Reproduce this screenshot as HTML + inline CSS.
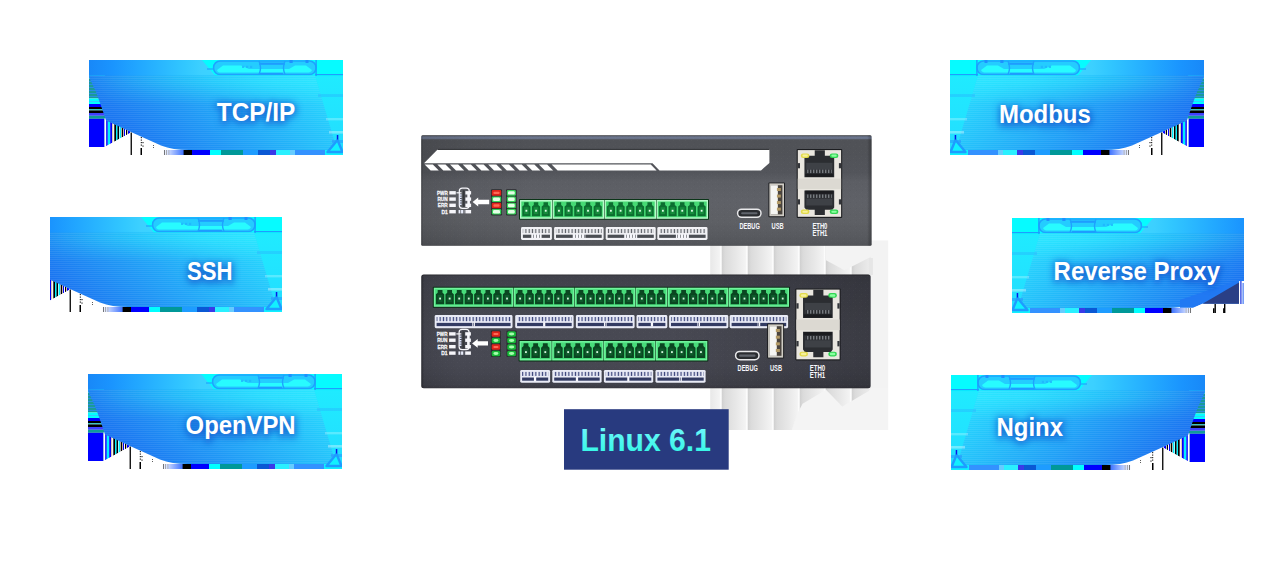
<!DOCTYPE html>
<html><head><meta charset="utf-8"><title>Linux 6.1</title>
<style>
html,body{margin:0;padding:0;background:#fff;}
body{width:1286px;height:582px;position:relative;overflow:hidden;font-family:"Liberation Sans",sans-serif;}
svg{display:block}
</style></head><body>
<svg width="0" height="0" style="position:absolute"><defs>

<linearGradient id="gTop" x1="0" y1="0" x2="1" y2="0">
  <stop offset="0" stop-color="#1888f8"/>
  <stop offset="0.09" stop-color="#1a94fe"/>
  <stop offset="0.20" stop-color="#22a8ff"/>
  <stop offset="0.38" stop-color="#32c8ff"/>
  <stop offset="0.44" stop-color="#3cd0ff"/>
  <stop offset="0.50" stop-color="#3cd4ff"/>
  <stop offset="1" stop-color="#3cd4ff"/>
</linearGradient>
<linearGradient id="gBody" gradientUnits="userSpaceOnUse" x1="20" y1="70" x2="158.6" y2="-68.6">
  <stop offset="0" stop-color="#1a70f0"/>
  <stop offset="1" stop-color="#28e0ff"/>
</linearGradient>
<linearGradient id="gOvH" gradientUnits="userSpaceOnUse" x1="0" y1="0" x2="240" y2="0">
  <stop offset="0" stop-color="#2ae4ff" stop-opacity="0.04"/>
  <stop offset="1" stop-color="#2ae4ff" stop-opacity="1"/>
</linearGradient>
<linearGradient id="gOvV" gradientUnits="userSpaceOnUse" x1="0" y1="22" x2="0" y2="45">
  <stop offset="0" stop-color="#fff"/>
  <stop offset="1" stop-color="#000"/>
</linearGradient>
<mask id="mOvV" maskUnits="userSpaceOnUse" x="0" y="0" width="254" height="95"><rect x="0" y="0" width="254" height="95" fill="url(#gOvV)"/></mask>
<clipPath id="bodyclip"><path d="M0,15.5 L226,15.5 L247.6,88.5 Q248,90 246,90 L100,90 Q84,90 72,85.5 L42,72 L17,60.5 Q13,48 7,32 L0,17 Z"/></clipPath>
<linearGradient id="gRight" x1="0" y1="0" x2="0" y2="1">
  <stop offset="0" stop-color="#1eeeff"/>
  <stop offset="1" stop-color="#24dcff"/>
</linearGradient>
<pattern id="scan" width="4" height="2" patternUnits="userSpaceOnUse">
  <rect width="4" height="1" fill="#ffffff" opacity="0.07"/>
</pattern>
<filter id="tsh" x="-30%" y="-100%" width="160%" height="300%">
  <feGaussianBlur stdDeviation="3.6"/>
</filter>
<g id="badge">
  <!-- base -->
  <rect x="0" y="0" width="254" height="95" fill="#ffffff"/>
  <rect x="100" y="0" width="154" height="95" fill="url(#gRight)"/>
  <!-- top strip -->
  <rect x="0" y="0" width="254" height="16.2" fill="url(#gTop)"/>
  <polygon points="113,0 254,0 254,16.2 126.6,16.2" fill="#06fbff"/>
  <rect x="118" y="8.4" width="7" height="1.2" fill="#1ea4ff"/>
  <rect x="226" y="14" width="28" height="1.2" fill="#1e9cff"/>
  <!-- cloud thing -->
  <rect x="124.6" y="1" width="102.4" height="13.6" rx="6.5" ry="6.5" fill="#24ccff" stroke="#1ea2ff" stroke-width="1.5"/>
  <path d="M128,10 L134,5.6 L152,5.6 L160,9 L200,9 L206,5.6 L217,5.6 L223,10 Q222,12.6 218,12.6 L132,12.6 Q128.5,12.6 128,10 Z" fill="#28fbff"/>
  <rect x="170" y="2.6" width="26" height="2.2" fill="#1e9cff"/>
  <rect x="170" y="12.8" width="24" height="1.8" fill="#1e9cff"/>
  <path d="M170,1 q3,6.5 0,13.6" fill="none" stroke="#1ea2ff" stroke-width="1.4"/>
  <path d="M196,1 q-3,6.5 0,13.6" fill="none" stroke="#1ea2ff" stroke-width="1.4"/>
  <rect x="153" y="5.8" width="2.2" height="2.2" fill="#1fb4ff" opacity=".8"/>
  <rect x="157" y="5.8" width="2.2" height="2.2" fill="#1fb4ff" opacity=".8"/>
  <rect x="161" y="5.8" width="2.2" height="2.2" fill="#1fb4ff" opacity=".8"/>
  <rect x="200.5" y="0" width="3.2" height="3" fill="#1e90ff"/>
  <rect x="216.5" y="0" width="3" height="3" fill="#1e90ff"/>
  <rect x="226.4" y="0" width="1.4" height="16" fill="#1e9cff"/>
  <!-- left stripes -->
  <g>
    <rect x="0" y="15.5" width="16" height="3" fill="#17e8ff"/>
    <rect x="0" y="18.5" width="16" height="20" fill="#1a9a9a"/>
    <rect x="0" y="21" width="16" height="1" fill="#2a8fe0"/>
    <rect x="0" y="24" width="16" height="1" fill="#2a8fe0"/>
    <rect x="0" y="27" width="16" height="1" fill="#2a8fe0"/>
    <rect x="0" y="30" width="16" height="1" fill="#2a8fe0"/>
    <rect x="0" y="33" width="16" height="1" fill="#2a8fe0"/>
    <rect x="0" y="36" width="16" height="1" fill="#2a8fe0"/>
    <rect x="0" y="38.5" width="16" height="5.5" fill="#00ffff"/>
    <rect x="0" y="41" width="16" height="0.8" fill="#40c0ff"/>
    <rect x="0" y="44" width="16" height="3" fill="#0000ff"/>
    <rect x="0" y="47" width="16" height="2.4" fill="#000000"/>
    <rect x="0" y="49.4" width="16" height="1" fill="#00e0e0"/>
    <rect x="0" y="50.4" width="16" height="2.6" fill="#000000"/>
    <rect x="0" y="53" width="16" height="2.8" fill="#4040ff"/>
    <rect x="0" y="55.8" width="16" height="3" fill="#109a9a"/>
    <rect x="0" y="58.8" width="15.5" height="28.2" fill="#0000ff"/>
  </g>
  <!-- vertical stripes triangle -->
  <g>
    <polygon points="15.5,58 42,72.5 15.5,87" fill="#ffffff"/>
    <clipPath id="tric"><polygon points="15.5,56 42.5,72.3 15.5,87"/></clipPath>
    <g clip-path="url(#tric)">
      <rect x="15.5" y="55" width="0.50" height="33" fill="#109a9a"/>
      <rect x="17.2" y="55" width="1.60" height="33" fill="#0000ff"/>
      <rect x="18.8" y="55" width="2.40" height="33" fill="#00f0ff"/>
      <rect x="21.2" y="55" width="1.80" height="33" fill="#0000ff"/>
      <rect x="23" y="55" width="1.20" height="33" fill="#d8c8b0"/>
      <rect x="25.3" y="55" width="1.70" height="33" fill="#000"/>
      <rect x="27" y="55" width="1.50" height="33" fill="#00f0ff"/>
      <rect x="28.5" y="55" width="1.50" height="33" fill="#000"/>
      <rect x="30.6" y="55" width="1.40" height="33" fill="#00f0ff"/>
      <rect x="32.7" y="55" width="1.30" height="33" fill="#000"/>
      <rect x="34" y="55" width="1.00" height="33" fill="#c8b8a0"/>
      <rect x="35" y="55" width="1.00" height="33" fill="#0000ff"/>
      <rect x="37" y="55" width="1.20" height="33" fill="#000"/>
      <rect x="38.2" y="55" width="0.60" height="33" fill="#c8b8a0"/>
      <rect x="39" y="55" width="2.00" height="33" fill="#0000ff"/>
    </g>
    <polygon points="15.5,87.2 15.5,95 42,95 42,72.6" fill="#fff"/>
    <rect x="41.6" y="72.5" width="1.3" height="22.5" fill="#000"/>
    <rect x="51.5" y="88" width="1.5" height="7" fill="#000"/>
    <rect x="51.8" y="77" width="1" height="1.2" fill="#000"/>
    <rect x="51.8" y="79.5" width="1" height="1.2" fill="#000"/>
    <rect x="51.8" y="82" width="1" height="1.2" fill="#000"/>
    <rect x="51.8" y="84.5" width="1" height="1.2" fill="#000"/>
    <rect x="53.5" y="82" width="1" height="1.2" fill="#000"/>
    <rect x="53.5" y="85.5" width="1" height="1.2" fill="#000"/>
    <rect x="64" y="85" width="0.8" height="1" fill="#333"/>
    <rect x="64" y="87" width="0.8" height="1" fill="#333"/>
  </g>
  <!-- body -->
  <path id="bodyp" d="M0,15.5 L226,15.5 L247.6,88.5 Q248,90 246,90 L100,90 Q84,90 72,85.5 L42,72 L17,60.5 Q13,48 7,32 L0,17 Z" fill="url(#gBody)"/>
  <g clip-path="url(#bodyclip)"><rect x="0" y="0" width="254" height="95" fill="url(#gOvH)" mask="url(#mOvV)"/></g>
  <path d="M0,15.5 L226,15.5 L247.6,88.5 Q248,90 246,90 L100,90 Q84,90 72,85.5 L42,72 L17,60.5 Q13,48 7,32 L0,17 Z" fill="url(#scan)"/>
  <!-- right bands -->
  <rect x="229" y="34" width="25" height="3" fill="#2aa8ff" opacity=".35"/>
  <rect x="237" y="58" width="17" height="2.4" fill="#ffffff" opacity=".25"/>
  <rect x="240" y="71" width="14" height="2.6" fill="#ffffff" opacity=".35"/>
  <rect x="243" y="80" width="11" height="3" fill="#2a80ff" opacity=".45"/>
  <!-- bottom strip -->
  <g>
    <rect x="74" y="90" width="180" height="5" fill="#2a96ff"/>
    <linearGradient id="gbs" x1="0" y1="0" x2="1" y2="0"><stop offset="0" stop-color="#ffffff"/><stop offset="1" stop-color="#3a70ff"/></linearGradient>
    <rect x="74" y="90" width="21" height="5" fill="url(#gbs)"/>
    <rect x="75" y="90" width="0.8" height="5" fill="#555"/>
    <rect x="77" y="90" width="0.8" height="5" fill="#999"/>
    <rect x="79.5" y="90" width="0.8" height="5" fill="#aaa"/>
    <rect x="94.6" y="90" width="8.4" height="5" fill="#000000"/>
    <rect x="103" y="90" width="18" height="5" fill="#0000ff"/>
    <rect x="121" y="90" width="11" height="5" fill="#00ffff"/>
    <rect x="132" y="90" width="22" height="5" fill="#009898"/>
    <rect x="154" y="90" width="15" height="5" fill="#1e9cff"/>
    <rect x="169" y="90" width="12" height="5" fill="#0a58d4"/>
    <rect x="181" y="90" width="6" height="5" fill="#3a3ae8"/>
    <rect x="187" y="90" width="14" height="5" fill="#2af0ff"/>
    <rect x="201" y="90" width="5" height="5" fill="#66ccff"/>
    <rect x="206" y="90" width="30" height="5" fill="#3392ff"/>
    <rect x="236" y="90" width="18" height="5" fill="#10f0ff"/>
  </g>
  <!-- corner triangle -->
  <path d="M238.5,92 L248.5,80 L253.5,92 Z" fill="#12f0ff" stroke="#1e9cff" stroke-width="2.4" stroke-linejoin="round"/>
  <rect x="247.8" y="75" width="1.5" height="4.5" fill="#0818e8"/>
</g>

</defs></svg>
<svg style="position:absolute;left:0;top:0" width="1286" height="582" viewBox="0 0 1286 582">
<defs>
<linearGradient id="dev1" x1="0" y1="0" x2="0" y2="1">
  <stop offset="0" stop-color="#35373c"/><stop offset="0.008" stop-color="#3a3c42"/><stop offset="0.013" stop-color="#6e7890"/><stop offset="0.030" stop-color="#687288"/><stop offset="0.042" stop-color="#505257"/>
  <stop offset="0.115" stop-color="#505257"/><stop offset="0.34" stop-color="#53555b"/><stop offset="0.42" stop-color="#5c5e64"/><stop offset="0.60" stop-color="#5f6167"/><stop offset="0.78" stop-color="#5e6065"/><stop offset="0.95" stop-color="#56585d"/><stop offset="0.992" stop-color="#525459"/><stop offset="1" stop-color="#3a3c40"/>
</linearGradient>
<linearGradient id="dev2" x1="0" y1="0" x2="0" y2="1">
  <stop offset="0" stop-color="#2c2c32"/><stop offset="0.015" stop-color="#40414a"/><stop offset="0.10" stop-color="#42434d"/><stop offset="0.30" stop-color="#45464f"/><stop offset="0.52" stop-color="#484953"/><stop offset="0.80" stop-color="#474852"/><stop offset="0.97" stop-color="#40414a"/><stop offset="0.993" stop-color="#3a3a42"/><stop offset="1" stop-color="#2c2c32"/>
</linearGradient>
<linearGradient id="devsh" x1="0" y1="0" x2="1" y2="0">
  <stop offset="0" stop-color="#000" stop-opacity=".30"/><stop offset="0.005" stop-color="#000" stop-opacity=".10"/><stop offset="0.10" stop-color="#000" stop-opacity="0.04"/><stop offset="0.25" stop-color="#000" stop-opacity="0"/><stop offset="0.99" stop-color="#000" stop-opacity="0"/><stop offset="0.996" stop-color="#000" stop-opacity=".18"/><stop offset="1" stop-color="#000" stop-opacity=".25"/>
</linearGradient>
<linearGradient id="devsh2" x1="0" y1="0" x2="1" y2="0">
  <stop offset="0" stop-color="#000" stop-opacity=".40"/><stop offset="0.006" stop-color="#000" stop-opacity=".08"/><stop offset="0.08" stop-color="#000" stop-opacity="0"/><stop offset="0.55" stop-color="#000" stop-opacity="0"/><stop offset="0.85" stop-color="#000" stop-opacity=".13"/><stop offset="1" stop-color="#000" stop-opacity=".19"/>
</linearGradient>
<linearGradient id="gs1" x1="0" y1="0" x2="1" y2="0">
  <stop offset="0" stop-color="#d0d0d0"/><stop offset="0.12" stop-color="#dbdbdb"/><stop offset="0.55" stop-color="#e8e8e8"/><stop offset="0.9" stop-color="#f3f3f3"/><stop offset="0.96" stop-color="#ffffff"/><stop offset="1" stop-color="#e2e2e2"/>
</linearGradient>
<pattern id="gstripe" width="26" height="10" patternUnits="userSpaceOnUse" x="722"><rect width="26" height="10" fill="url(#gs1)"/></pattern>
<pattern id="noise" width="6" height="6" patternUnits="userSpaceOnUse"><rect x="1" y="2" width="1" height="1" fill="#fff" opacity=".06"/><rect x="4" y="4" width="1" height="1" fill="#000" opacity=".08"/><rect x="3" y="0" width="1" height="1" fill="#fff" opacity=".05"/></pattern>
<pattern id="tiny" width="3.3" height="6" patternUnits="userSpaceOnUse"><rect x="0" y="0" width="3.3" height="6" fill="#f2f2f6"/><rect x="0.6" y="0" width="1.2" height="6" fill="#5d6067"/></pattern>
<pattern id="tinyb" width="3.3" height="6" patternUnits="userSpaceOnUse"><rect x="0" y="0" width="3.3" height="6" fill="#eef0fa"/><rect x="0.6" y="0" width="1.3" height="6" fill="#3a437a"/></pattern>
<pattern id="tiny2w" width="2.9" height="6" patternUnits="userSpaceOnUse"><rect x="0" y="0" width="2.2" height="6" fill="#e8ecfa"/></pattern>
<pattern id="tiny2" width="3" height="6" patternUnits="userSpaceOnUse"><rect x="0" y="0" width="2.4" height="6" fill="#f6f6fb"/></pattern>
<pattern id="pins" width="3" height="5" patternUnits="userSpaceOnUse"><rect x="0" y="0" width="1.4" height="5" fill="#777b80"/></pattern>
<linearGradient id="ltxt" x1="0" y1="0" x2="0" y2="1"><stop offset="0" stop-color="#7af6ff"/><stop offset="1" stop-color="#2af7e2"/></linearGradient>
</defs>
<rect x="710.2" y="245" width="177.8" height="185" fill="url(#gstripe)"/>
<rect x="871" y="240.4" width="17.2" height="189.6" fill="#f3f3f3"/>
<polygon points="791.8,430 797.2,413.8 802.6,403.7 826,389.7 842.3,406.5 868.7,390.9 871,388 888,388 888,430" fill="#f4f4f4"/>
<polygon points="826,245 871,245 871,256.5 868.7,257.9 844.6,270.3 826,260.2" fill="#f3f3f3"/>
<rect x="868.7" y="258" width="4.2" height="17" fill="#e6e6e6"/>
<rect x="421.2" y="135.2" width="450.40000000000003" height="110.5" rx="1.5" fill="url(#dev1)"/>
<rect x="421.2" y="135.2" width="450.40000000000003" height="110.5" rx="1.5" fill="url(#devsh)"/>
<rect x="421.2" y="135.2" width="450.40000000000003" height="110.5" rx="1.5" fill="url(#noise)" opacity=".35"/>
<path d="M437.6,149.4 L769.4,149.4 L769.4,163 L761,170.4 L659.5,170.4 L652.5,163.2 L424,163.2 Z" fill="#ffffff"/>
<path d="M437.6,149.4 L769.4,149.4" stroke="#2a2c30" stroke-width="1" fill="none"/>
<polygon points="424.6,164.6 432.8,164.6 438.8,170.4 430.6,170.4" fill="#fff"/>
<polygon points="437.3,164.6 445.5,164.6 451.5,170.4 443.3,170.4" fill="#fff"/>
<polygon points="450.0,164.6 458.2,164.6 464.2,170.4 456.0,170.4" fill="#fff"/>
<polygon points="462.7,164.6 470.9,164.6 476.9,170.4 468.7,170.4" fill="#fff"/>
<polygon points="475.4,164.6 483.6,164.6 489.6,170.4 481.4,170.4" fill="#fff"/>
<polygon points="488.1,164.6 496.3,164.6 502.3,170.4 494.1,170.4" fill="#fff"/>
<polygon points="500.8,164.6 509.0,164.6 515.0,170.4 506.8,170.4" fill="#fff"/>
<polygon points="513.5,164.6 521.7,164.6 527.7,170.4 519.5,170.4" fill="#fff"/>
<polygon points="526.2,164.6 534.4,164.6 540.4,170.4 532.2,170.4" fill="#fff"/>
<polygon points="538.9,164.6 547.1,164.6 553.1,170.4 544.9,170.4" fill="#fff"/>
<polygon points="551.6,164.6 650.8,164.6 656.6,170.4 557.6,170.4" fill="#fff"/>
<text x="437.00" y="194.95" font-family="Liberation Sans, sans-serif" font-weight="700" font-size="6" textLength="10.7" lengthAdjust="spacingAndGlyphs" fill="#f6f6fa" stroke="#f6f6fa" stroke-width="0.3">PWR</text>
<rect x="449.30" y="191.10" width="6.5" height="3.4" fill="#f6f6fa"/>
<rect x="465.40" y="191.10" width="5.7" height="3.4" fill="#f6f6fa"/>
<text x="437.40" y="201.25" font-family="Liberation Sans, sans-serif" font-weight="700" font-size="6" textLength="10.3" lengthAdjust="spacingAndGlyphs" fill="#f6f6fa" stroke="#f6f6fa" stroke-width="0.3">RUN</text>
<rect x="449.30" y="197.40" width="6.5" height="3.4" fill="#f6f6fa"/>
<rect x="465.40" y="197.40" width="5.7" height="3.4" fill="#f6f6fa"/>
<text x="437.80" y="207.45" font-family="Liberation Sans, sans-serif" font-weight="700" font-size="6" textLength="9.9" lengthAdjust="spacingAndGlyphs" fill="#f6f6fa" stroke="#f6f6fa" stroke-width="0.3">ERR</text>
<rect x="449.30" y="203.60" width="6.5" height="3.4" fill="#f6f6fa"/>
<rect x="465.40" y="203.60" width="5.7" height="3.4" fill="#f6f6fa"/>
<text x="441.40" y="213.85" font-family="Liberation Sans, sans-serif" font-weight="700" font-size="6" textLength="6.3" lengthAdjust="spacingAndGlyphs" fill="#f6f6fa" stroke="#f6f6fa" stroke-width="0.3">D1</text>
<rect x="449.30" y="210.00" width="6.5" height="3.4" fill="#f6f6fa"/>
<rect x="465.40" y="210.00" width="5.7" height="3.4" fill="#f6f6fa"/>
<rect x="459.30" y="188.20" width="10" height="20.10" rx="3" fill="none" stroke="#f6f6fa" stroke-width="1.2"/>
<rect x="456.50" y="192.20" width="5" height="1.2" fill="#f6f6fa"/>
<rect x="462.70" y="190.30" width="2" height="16.50" fill="#34363b"/>
<path d="M460.50,194.30 v11.00" stroke="#dfe6ff" stroke-width="2.2" stroke-dasharray="1.4 0.9" fill="none"/>
<rect x="467.30" y="192.80" width="2" height="12.50" fill="#f6f6fa"/>
<rect x="458.50" y="210.00" width="5.8" height="3.4" fill="url(#tiny2w)"/>
<path d="M472.6,202 l5.6,-4.4 v2.2 h10.999999999999966 v4.4 h-10.999999999999966 v2.2 z" fill="#ffffff"/>
<rect x="491.00" y="189.30" width="11.00" height="26.10" rx="1" fill="#2b2d31"/>
<rect x="491.80" y="190.10" width="9.4" height="5.6" rx="1.3" fill="#df241b"/>
<rect x="493.40" y="191.70" width="6.20" height="2.40" rx="1" fill="#ff6a55"/>
<rect x="491.80" y="196.40" width="9.4" height="5.6" rx="1.3" fill="#35d257"/>
<rect x="493.00" y="197.50" width="7.00" height="3.40" rx="1.2" fill="#e4ffe6"/>
<rect x="491.80" y="202.70" width="9.4" height="5.6" rx="1.3" fill="#df241b"/>
<rect x="493.40" y="204.30" width="6.20" height="2.40" rx="1" fill="#ff6a55"/>
<rect x="491.80" y="209.00" width="9.4" height="5.6" rx="1.3" fill="#35d257"/>
<rect x="493.00" y="210.10" width="7.00" height="3.40" rx="1.2" fill="#e4ffe6"/>
<rect x="506.00" y="189.30" width="10.70" height="26.10" rx="1" fill="#2b2d31"/>
<rect x="506.80" y="190.10" width="9.1" height="5.6" rx="1.3" fill="#35d257"/>
<rect x="508.00" y="191.20" width="6.70" height="3.40" rx="1.2" fill="#e4ffe6"/>
<rect x="506.80" y="196.40" width="9.1" height="5.6" rx="1.3" fill="#35d257"/>
<rect x="508.00" y="197.50" width="6.70" height="3.40" rx="1.2" fill="#e4ffe6"/>
<rect x="506.80" y="202.70" width="9.1" height="5.6" rx="1.3" fill="#35d257"/>
<rect x="508.00" y="203.80" width="6.70" height="3.40" rx="1.2" fill="#e4ffe6"/>
<rect x="506.80" y="209.00" width="9.1" height="5.6" rx="1.3" fill="#35d257"/>
<rect x="508.00" y="210.10" width="6.70" height="3.40" rx="1.2" fill="#e4ffe6"/>
<rect x="519.00" y="199.00" width="190.00" height="20.80" rx="0.8" fill="#0b3518"/>
<rect x="520.00" y="200.00" width="32.08" height="18.80" fill="#b8fccb"/>
<rect x="521.30" y="201.50" width="29.48" height="15.80" fill="#46da74"/>
<path d="M524.12,202.26 h4.46 v2.63 l1.84,1.50 v9.96 h-8.14 v-9.96 l1.84,-1.50 z" fill="#0c6e30"/>
<rect x="524.07" y="207.19" width="4.56" height="6.97" fill="#168c3c"/>
<rect x="525.45" y="209.78" width="1.8" height="1.9" fill="#e2ffe9"/>
<path d="M533.81,202.26 h4.46 v2.63 l1.84,1.50 v9.96 h-8.14 v-9.96 l1.84,-1.50 z" fill="#0c6e30"/>
<rect x="533.76" y="207.19" width="4.56" height="6.97" fill="#168c3c"/>
<rect x="535.14" y="209.78" width="1.8" height="1.9" fill="#e2ffe9"/>
<path d="M543.51,202.26 h4.46 v2.63 l1.84,1.50 v9.96 h-8.14 v-9.96 l1.84,-1.50 z" fill="#0c6e30"/>
<rect x="543.46" y="207.19" width="4.56" height="6.97" fill="#168c3c"/>
<rect x="544.84" y="209.78" width="1.8" height="1.9" fill="#e2ffe9"/>
<rect x="552.58" y="200.00" width="51.47" height="18.80" fill="#b8fccb"/>
<rect x="553.88" y="201.50" width="48.87" height="15.80" fill="#46da74"/>
<path d="M556.70,202.26 h4.46 v2.63 l1.84,1.50 v9.96 h-8.14 v-9.96 l1.84,-1.50 z" fill="#0c6e30"/>
<rect x="556.65" y="207.19" width="4.56" height="6.97" fill="#168c3c"/>
<rect x="558.03" y="209.78" width="1.8" height="1.9" fill="#e2ffe9"/>
<path d="M566.40,202.26 h4.46 v2.63 l1.84,1.50 v9.96 h-8.14 v-9.96 l1.84,-1.50 z" fill="#0c6e30"/>
<rect x="566.34" y="207.19" width="4.56" height="6.97" fill="#168c3c"/>
<rect x="567.73" y="209.78" width="1.8" height="1.9" fill="#e2ffe9"/>
<path d="M576.09,202.26 h4.46 v2.63 l1.84,1.50 v9.96 h-8.14 v-9.96 l1.84,-1.50 z" fill="#0c6e30"/>
<rect x="576.04" y="207.19" width="4.56" height="6.97" fill="#168c3c"/>
<rect x="577.42" y="209.78" width="1.8" height="1.9" fill="#e2ffe9"/>
<path d="M585.78,202.26 h4.46 v2.63 l1.84,1.50 v9.96 h-8.14 v-9.96 l1.84,-1.50 z" fill="#0c6e30"/>
<rect x="585.73" y="207.19" width="4.56" height="6.97" fill="#168c3c"/>
<rect x="587.11" y="209.78" width="1.8" height="1.9" fill="#e2ffe9"/>
<path d="M595.48,202.26 h4.46 v2.63 l1.84,1.50 v9.96 h-8.14 v-9.96 l1.84,-1.50 z" fill="#0c6e30"/>
<rect x="595.43" y="207.19" width="4.56" height="6.97" fill="#168c3c"/>
<rect x="596.81" y="209.78" width="1.8" height="1.9" fill="#e2ffe9"/>
<rect x="604.56" y="200.00" width="51.47" height="18.80" fill="#b8fccb"/>
<rect x="605.86" y="201.50" width="48.87" height="15.80" fill="#46da74"/>
<path d="M608.67,202.26 h4.46 v2.63 l1.84,1.50 v9.96 h-8.14 v-9.96 l1.84,-1.50 z" fill="#0c6e30"/>
<rect x="608.62" y="207.19" width="4.56" height="6.97" fill="#168c3c"/>
<rect x="610.00" y="209.78" width="1.8" height="1.9" fill="#e2ffe9"/>
<path d="M618.37,202.26 h4.46 v2.63 l1.84,1.50 v9.96 h-8.14 v-9.96 l1.84,-1.50 z" fill="#0c6e30"/>
<rect x="618.32" y="207.19" width="4.56" height="6.97" fill="#168c3c"/>
<rect x="619.70" y="209.78" width="1.8" height="1.9" fill="#e2ffe9"/>
<path d="M628.06,202.26 h4.46 v2.63 l1.84,1.50 v9.96 h-8.14 v-9.96 l1.84,-1.50 z" fill="#0c6e30"/>
<rect x="628.01" y="207.19" width="4.56" height="6.97" fill="#168c3c"/>
<rect x="629.39" y="209.78" width="1.8" height="1.9" fill="#e2ffe9"/>
<path d="M637.76,202.26 h4.46 v2.63 l1.84,1.50 v9.96 h-8.14 v-9.96 l1.84,-1.50 z" fill="#0c6e30"/>
<rect x="637.71" y="207.19" width="4.56" height="6.97" fill="#168c3c"/>
<rect x="639.09" y="209.78" width="1.8" height="1.9" fill="#e2ffe9"/>
<path d="M647.45,202.26 h4.46 v2.63 l1.84,1.50 v9.96 h-8.14 v-9.96 l1.84,-1.50 z" fill="#0c6e30"/>
<rect x="647.40" y="207.19" width="4.56" height="6.97" fill="#168c3c"/>
<rect x="648.78" y="209.78" width="1.8" height="1.9" fill="#e2ffe9"/>
<rect x="656.53" y="200.00" width="51.47" height="18.80" fill="#b8fccb"/>
<rect x="657.83" y="201.50" width="48.87" height="15.80" fill="#46da74"/>
<path d="M660.65,202.26 h4.46 v2.63 l1.84,1.50 v9.96 h-8.14 v-9.96 l1.84,-1.50 z" fill="#0c6e30"/>
<rect x="660.59" y="207.19" width="4.56" height="6.97" fill="#168c3c"/>
<rect x="661.97" y="209.78" width="1.8" height="1.9" fill="#e2ffe9"/>
<path d="M670.34,202.26 h4.46 v2.63 l1.84,1.50 v9.96 h-8.14 v-9.96 l1.84,-1.50 z" fill="#0c6e30"/>
<rect x="670.29" y="207.19" width="4.56" height="6.97" fill="#168c3c"/>
<rect x="671.67" y="209.78" width="1.8" height="1.9" fill="#e2ffe9"/>
<path d="M680.03,202.26 h4.46 v2.63 l1.84,1.50 v9.96 h-8.14 v-9.96 l1.84,-1.50 z" fill="#0c6e30"/>
<rect x="679.98" y="207.19" width="4.56" height="6.97" fill="#168c3c"/>
<rect x="681.36" y="209.78" width="1.8" height="1.9" fill="#e2ffe9"/>
<path d="M689.73,202.26 h4.46 v2.63 l1.84,1.50 v9.96 h-8.14 v-9.96 l1.84,-1.50 z" fill="#0c6e30"/>
<rect x="689.68" y="207.19" width="4.56" height="6.97" fill="#168c3c"/>
<rect x="691.06" y="209.78" width="1.8" height="1.9" fill="#e2ffe9"/>
<path d="M699.42,202.26 h4.46 v2.63 l1.84,1.50 v9.96 h-8.14 v-9.96 l1.84,-1.50 z" fill="#0c6e30"/>
<rect x="699.37" y="207.19" width="4.56" height="6.97" fill="#168c3c"/>
<rect x="700.75" y="209.78" width="1.8" height="1.9" fill="#e2ffe9"/>
<rect x="521.00" y="227.00" width="30.90" height="12.90" rx="1.4" fill="#f2f2f6"/>
<rect x="522.80" y="229.00" width="27.30" height="4.06" fill="url(#tiny)"/>
<rect x="522.90" y="234.68" width="27.10" height="3.20" fill="#4b4e54"/>
<rect x="531.30" y="234.06" width="10.30" height="4.18" fill="url(#tiny2)"/>
<rect x="554.10" y="227.00" width="49.50" height="12.90" rx="1.4" fill="#f2f2f6"/>
<rect x="555.90" y="229.00" width="45.90" height="4.06" fill="url(#tiny)"/>
<rect x="556.00" y="234.68" width="45.70" height="3.20" fill="#4b4e54"/>
<rect x="572.35" y="234.06" width="13.00" height="4.18" fill="url(#tiny2)"/>
<rect x="605.70" y="227.00" width="50.00" height="12.90" rx="1.4" fill="#f2f2f6"/>
<rect x="607.50" y="229.00" width="46.40" height="4.06" fill="url(#tiny)"/>
<rect x="607.60" y="234.68" width="46.20" height="3.20" fill="#4b4e54"/>
<rect x="624.20" y="234.06" width="13.00" height="4.18" fill="url(#tiny2)"/>
<rect x="657.30" y="227.00" width="50.20" height="12.90" rx="1.4" fill="#f2f2f6"/>
<rect x="659.10" y="229.00" width="46.60" height="4.06" fill="url(#tiny)"/>
<rect x="659.20" y="234.68" width="46.40" height="3.20" fill="#4b4e54"/>
<rect x="675.90" y="234.06" width="13.00" height="4.18" fill="url(#tiny2)"/>
<rect x="737.60" y="209.20" width="23.40" height="8.10" rx="4.05" fill="#2a2c30" stroke="#e8e8ea" stroke-width="1.5"/>
<rect x="741.10" y="212.15" width="16.40" height="2.2" rx="1" fill="#60646c"/>
<rect x="768.40" y="182.40" width="16.60" height="34.80" rx="1" fill="#1e1f22"/>
<rect x="769.40" y="183.40" width="14.60" height="32.80" fill="#cfccc5"/>
<rect x="771.00" y="185.20" width="11.40" height="29.20" fill="#4a443e"/>
<rect x="771.00" y="185.20" width="6.84" height="29.20" fill="#f6f6f3"/>
<rect x="776.93" y="188.00" width="3.88" height="3" fill="#b39a66"/>
<rect x="776.93" y="194.55" width="3.88" height="3" fill="#b39a66"/>
<rect x="776.93" y="201.09" width="3.88" height="3" fill="#b39a66"/>
<rect x="776.93" y="207.64" width="3.88" height="3" fill="#b39a66"/>
<rect x="796.70" y="149.00" width="45.50" height="68.90" rx="0.8" fill="#1d1e21"/>
<rect x="797.80" y="150.10" width="43.30" height="66.70" fill="#e9e6df"/>
<rect x="797.80" y="178.63" width="43.30" height="10.34" fill="#dcd9d2"/>
<path d="M804.44,177.18 V157.96 L806.25,155.68 H814.72 V150.24 H824.86 V155.68 H832.37 L834.19,157.96 V177.18 Z" fill="#2b2d31"/>
<rect x="806.25" y="162.78" width="26.12" height="6.89" fill="#3e4146"/>
<rect x="807.17" y="169.67" width="24.57" height="3.45" fill="url(#pins)"/>
<rect x="805.35" y="173.80" width="27.94" height="3.10" fill="#1b1c1f"/>
<path d="M804.44,190.48 H834.19 V207.56 L832.37,209.77 H824.86 V214.94 H814.72 V209.77 H806.25 L804.44,207.56 Z" fill="#2b2d31"/>
<rect x="805.35" y="190.68" width="27.94" height="3.10" fill="#1b1c1f"/>
<rect x="807.17" y="194.47" width="24.57" height="3.45" fill="url(#pins)"/>
<rect x="806.25" y="198.61" width="26.12" height="6.89" fill="#3e4146"/>
<rect x="800.80" y="153.41" width="8.64" height="4.55" rx="2.27" fill="#e2da4a"/>
<rect x="802.40" y="154.61" width="5.44" height="2.15" rx="1.07" fill="#f6f09a"/>
<rect x="829.73" y="153.41" width="8.64" height="4.55" rx="2.27" fill="#30d552"/>
<rect x="831.33" y="154.61" width="5.44" height="2.15" rx="1.07" fill="#8affa0"/>
<rect x="800.80" y="209.49" width="8.64" height="4.55" rx="2.27" fill="#e2da4a"/>
<rect x="802.40" y="210.69" width="5.44" height="2.15" rx="1.07" fill="#f6f09a"/>
<rect x="829.73" y="209.49" width="8.64" height="4.55" rx="2.27" fill="#30d552"/>
<rect x="831.33" y="210.69" width="5.44" height="2.15" rx="1.07" fill="#8affa0"/>
<rect x="797.80" y="163.12" width="2.2" height="5.17" fill="#33353a"/>
<rect x="838.90" y="163.12" width="2.2" height="5.17" fill="#33353a"/>
<rect x="797.80" y="199.30" width="2.2" height="5.17" fill="#33353a"/>
<rect x="838.90" y="199.30" width="2.2" height="5.17" fill="#33353a"/>
<text x="739.40" y="229.30" font-family="Liberation Sans, sans-serif" font-weight="700" font-size="8.2" textLength="20.4" lengthAdjust="spacingAndGlyphs" fill="#f6f6fa">DEBUG</text>
<text x="771.50" y="229.30" font-family="Liberation Sans, sans-serif" font-weight="700" font-size="8.2" textLength="12.1" lengthAdjust="spacingAndGlyphs" fill="#f6f6fa">USB</text>
<text x="812.40" y="229.00" font-family="Liberation Sans, sans-serif" font-weight="700" font-size="8.2" textLength="15.0" lengthAdjust="spacingAndGlyphs" fill="#f6f6fa">ETH0</text>
<text x="812.40" y="235.70" font-family="Liberation Sans, sans-serif" font-weight="700" font-size="8.2" textLength="15.0" lengthAdjust="spacingAndGlyphs" fill="#f6f6fa">ETH1</text>
<rect x="421.3" y="274.5" width="449.3" height="113.80000000000001" rx="2.5" fill="url(#dev2)"/>
<rect x="421.3" y="274.5" width="449.3" height="113.80000000000001" rx="2.5" fill="url(#devsh2)"/>
<rect x="421.3" y="274.5" width="449.3" height="113.80000000000001" rx="2.5" fill="url(#noise)" opacity=".35"/>
<rect x="432.80" y="286.70" width="357.20" height="21.10" rx="0.8" fill="#0a2a14"/>
<rect x="433.80" y="287.70" width="79.50" height="19.10" fill="#70f29c"/>
<rect x="435.10" y="289.20" width="76.90" height="16.10" fill="#48dc7a"/>
<path d="M437.69,289.99 h4.78 v2.67 l1.77,1.53 v10.12 h-8.32 v-10.12 l1.77,-1.53 z" fill="#0a4621"/>
<rect x="437.75" y="294.99" width="4.66" height="7.09" fill="#0e5a2b"/>
<rect x="439.18" y="297.63" width="1.8" height="1.9" fill="#d6f5de"/>
<path d="M447.25,289.99 h4.78 v2.67 l1.77,1.53 v10.12 h-8.32 v-10.12 l1.77,-1.53 z" fill="#0a4621"/>
<rect x="447.31" y="294.99" width="4.66" height="7.09" fill="#0e5a2b"/>
<rect x="448.74" y="297.63" width="1.8" height="1.9" fill="#d6f5de"/>
<path d="M456.82,289.99 h4.78 v2.67 l1.77,1.53 v10.12 h-8.32 v-10.12 l1.77,-1.53 z" fill="#0a4621"/>
<rect x="456.88" y="294.99" width="4.66" height="7.09" fill="#0e5a2b"/>
<rect x="458.31" y="297.63" width="1.8" height="1.9" fill="#d6f5de"/>
<path d="M466.38,289.99 h4.78 v2.67 l1.77,1.53 v10.12 h-8.32 v-10.12 l1.77,-1.53 z" fill="#0a4621"/>
<rect x="466.44" y="294.99" width="4.66" height="7.09" fill="#0e5a2b"/>
<rect x="467.87" y="297.63" width="1.8" height="1.9" fill="#d6f5de"/>
<path d="M475.94,289.99 h4.78 v2.67 l1.77,1.53 v10.12 h-8.32 v-10.12 l1.77,-1.53 z" fill="#0a4621"/>
<rect x="476.00" y="294.99" width="4.66" height="7.09" fill="#0e5a2b"/>
<rect x="477.43" y="297.63" width="1.8" height="1.9" fill="#d6f5de"/>
<path d="M485.50,289.99 h4.78 v2.67 l1.77,1.53 v10.12 h-8.32 v-10.12 l1.77,-1.53 z" fill="#0a4621"/>
<rect x="485.57" y="294.99" width="4.66" height="7.09" fill="#0e5a2b"/>
<rect x="487.00" y="297.63" width="1.8" height="1.9" fill="#d6f5de"/>
<path d="M495.07,289.99 h4.78 v2.67 l1.77,1.53 v10.12 h-8.32 v-10.12 l1.77,-1.53 z" fill="#0a4621"/>
<rect x="495.13" y="294.99" width="4.66" height="7.09" fill="#0e5a2b"/>
<rect x="496.56" y="297.63" width="1.8" height="1.9" fill="#d6f5de"/>
<path d="M504.63,289.99 h4.78 v2.67 l1.77,1.53 v10.12 h-8.32 v-10.12 l1.77,-1.53 z" fill="#0a4621"/>
<rect x="504.69" y="294.99" width="4.66" height="7.09" fill="#0e5a2b"/>
<rect x="506.12" y="297.63" width="1.8" height="1.9" fill="#d6f5de"/>
<rect x="513.80" y="287.70" width="60.38" height="19.10" fill="#70f29c"/>
<rect x="515.10" y="289.20" width="57.78" height="16.10" fill="#48dc7a"/>
<path d="M517.69,289.99 h4.78 v2.67 l1.77,1.53 v10.12 h-8.32 v-10.12 l1.77,-1.53 z" fill="#0a4621"/>
<rect x="517.75" y="294.99" width="4.66" height="7.09" fill="#0e5a2b"/>
<rect x="519.18" y="297.63" width="1.8" height="1.9" fill="#d6f5de"/>
<path d="M527.26,289.99 h4.78 v2.67 l1.77,1.53 v10.12 h-8.32 v-10.12 l1.77,-1.53 z" fill="#0a4621"/>
<rect x="527.32" y="294.99" width="4.66" height="7.09" fill="#0e5a2b"/>
<rect x="528.75" y="297.63" width="1.8" height="1.9" fill="#d6f5de"/>
<path d="M536.82,289.99 h4.78 v2.67 l1.77,1.53 v10.12 h-8.32 v-10.12 l1.77,-1.53 z" fill="#0a4621"/>
<rect x="536.88" y="294.99" width="4.66" height="7.09" fill="#0e5a2b"/>
<rect x="538.31" y="297.63" width="1.8" height="1.9" fill="#d6f5de"/>
<path d="M546.38,289.99 h4.78 v2.67 l1.77,1.53 v10.12 h-8.32 v-10.12 l1.77,-1.53 z" fill="#0a4621"/>
<rect x="546.44" y="294.99" width="4.66" height="7.09" fill="#0e5a2b"/>
<rect x="547.87" y="297.63" width="1.8" height="1.9" fill="#d6f5de"/>
<path d="M555.95,289.99 h4.78 v2.67 l1.77,1.53 v10.12 h-8.32 v-10.12 l1.77,-1.53 z" fill="#0a4621"/>
<rect x="556.01" y="294.99" width="4.66" height="7.09" fill="#0e5a2b"/>
<rect x="557.44" y="297.63" width="1.8" height="1.9" fill="#d6f5de"/>
<path d="M565.51,289.99 h4.78 v2.67 l1.77,1.53 v10.12 h-8.32 v-10.12 l1.77,-1.53 z" fill="#0a4621"/>
<rect x="565.57" y="294.99" width="4.66" height="7.09" fill="#0e5a2b"/>
<rect x="567.00" y="297.63" width="1.8" height="1.9" fill="#d6f5de"/>
<rect x="574.68" y="287.70" width="60.38" height="19.10" fill="#70f29c"/>
<rect x="575.98" y="289.20" width="57.78" height="16.10" fill="#48dc7a"/>
<path d="M578.57,289.99 h4.78 v2.67 l1.77,1.53 v10.12 h-8.32 v-10.12 l1.77,-1.53 z" fill="#0a4621"/>
<rect x="578.63" y="294.99" width="4.66" height="7.09" fill="#0e5a2b"/>
<rect x="580.06" y="297.63" width="1.8" height="1.9" fill="#d6f5de"/>
<path d="M588.13,289.99 h4.78 v2.67 l1.77,1.53 v10.12 h-8.32 v-10.12 l1.77,-1.53 z" fill="#0a4621"/>
<rect x="588.19" y="294.99" width="4.66" height="7.09" fill="#0e5a2b"/>
<rect x="589.62" y="297.63" width="1.8" height="1.9" fill="#d6f5de"/>
<path d="M597.70,289.99 h4.78 v2.67 l1.77,1.53 v10.12 h-8.32 v-10.12 l1.77,-1.53 z" fill="#0a4621"/>
<rect x="597.76" y="294.99" width="4.66" height="7.09" fill="#0e5a2b"/>
<rect x="599.19" y="297.63" width="1.8" height="1.9" fill="#d6f5de"/>
<path d="M607.26,289.99 h4.78 v2.67 l1.77,1.53 v10.12 h-8.32 v-10.12 l1.77,-1.53 z" fill="#0a4621"/>
<rect x="607.32" y="294.99" width="4.66" height="7.09" fill="#0e5a2b"/>
<rect x="608.75" y="297.63" width="1.8" height="1.9" fill="#d6f5de"/>
<path d="M616.82,289.99 h4.78 v2.67 l1.77,1.53 v10.12 h-8.32 v-10.12 l1.77,-1.53 z" fill="#0a4621"/>
<rect x="616.88" y="294.99" width="4.66" height="7.09" fill="#0e5a2b"/>
<rect x="618.31" y="297.63" width="1.8" height="1.9" fill="#d6f5de"/>
<path d="M626.39,289.99 h4.78 v2.67 l1.77,1.53 v10.12 h-8.32 v-10.12 l1.77,-1.53 z" fill="#0a4621"/>
<rect x="626.45" y="294.99" width="4.66" height="7.09" fill="#0e5a2b"/>
<rect x="627.88" y="297.63" width="1.8" height="1.9" fill="#d6f5de"/>
<rect x="635.56" y="287.70" width="31.69" height="19.10" fill="#70f29c"/>
<rect x="636.86" y="289.20" width="29.09" height="16.10" fill="#48dc7a"/>
<path d="M639.45,289.99 h4.78 v2.67 l1.77,1.53 v10.12 h-8.32 v-10.12 l1.77,-1.53 z" fill="#0a4621"/>
<rect x="639.51" y="294.99" width="4.66" height="7.09" fill="#0e5a2b"/>
<rect x="640.94" y="297.63" width="1.8" height="1.9" fill="#d6f5de"/>
<path d="M649.01,289.99 h4.78 v2.67 l1.77,1.53 v10.12 h-8.32 v-10.12 l1.77,-1.53 z" fill="#0a4621"/>
<rect x="649.07" y="294.99" width="4.66" height="7.09" fill="#0e5a2b"/>
<rect x="650.50" y="297.63" width="1.8" height="1.9" fill="#d6f5de"/>
<path d="M658.57,289.99 h4.78 v2.67 l1.77,1.53 v10.12 h-8.32 v-10.12 l1.77,-1.53 z" fill="#0a4621"/>
<rect x="658.63" y="294.99" width="4.66" height="7.09" fill="#0e5a2b"/>
<rect x="660.06" y="297.63" width="1.8" height="1.9" fill="#d6f5de"/>
<rect x="667.75" y="287.70" width="60.38" height="19.10" fill="#70f29c"/>
<rect x="669.05" y="289.20" width="57.78" height="16.10" fill="#48dc7a"/>
<path d="M671.64,289.99 h4.78 v2.67 l1.77,1.53 v10.12 h-8.32 v-10.12 l1.77,-1.53 z" fill="#0a4621"/>
<rect x="671.70" y="294.99" width="4.66" height="7.09" fill="#0e5a2b"/>
<rect x="673.13" y="297.63" width="1.8" height="1.9" fill="#d6f5de"/>
<path d="M681.20,289.99 h4.78 v2.67 l1.77,1.53 v10.12 h-8.32 v-10.12 l1.77,-1.53 z" fill="#0a4621"/>
<rect x="681.26" y="294.99" width="4.66" height="7.09" fill="#0e5a2b"/>
<rect x="682.69" y="297.63" width="1.8" height="1.9" fill="#d6f5de"/>
<path d="M690.76,289.99 h4.78 v2.67 l1.77,1.53 v10.12 h-8.32 v-10.12 l1.77,-1.53 z" fill="#0a4621"/>
<rect x="690.82" y="294.99" width="4.66" height="7.09" fill="#0e5a2b"/>
<rect x="692.25" y="297.63" width="1.8" height="1.9" fill="#d6f5de"/>
<path d="M700.33,289.99 h4.78 v2.67 l1.77,1.53 v10.12 h-8.32 v-10.12 l1.77,-1.53 z" fill="#0a4621"/>
<rect x="700.39" y="294.99" width="4.66" height="7.09" fill="#0e5a2b"/>
<rect x="701.82" y="297.63" width="1.8" height="1.9" fill="#d6f5de"/>
<path d="M709.89,289.99 h4.78 v2.67 l1.77,1.53 v10.12 h-8.32 v-10.12 l1.77,-1.53 z" fill="#0a4621"/>
<rect x="709.95" y="294.99" width="4.66" height="7.09" fill="#0e5a2b"/>
<rect x="711.38" y="297.63" width="1.8" height="1.9" fill="#d6f5de"/>
<path d="M719.45,289.99 h4.78 v2.67 l1.77,1.53 v10.12 h-8.32 v-10.12 l1.77,-1.53 z" fill="#0a4621"/>
<rect x="719.51" y="294.99" width="4.66" height="7.09" fill="#0e5a2b"/>
<rect x="720.94" y="297.63" width="1.8" height="1.9" fill="#d6f5de"/>
<rect x="728.62" y="287.70" width="60.38" height="19.10" fill="#70f29c"/>
<rect x="729.92" y="289.20" width="57.78" height="16.10" fill="#48dc7a"/>
<path d="M732.51,289.99 h4.78 v2.67 l1.77,1.53 v10.12 h-8.32 v-10.12 l1.77,-1.53 z" fill="#0a4621"/>
<rect x="732.57" y="294.99" width="4.66" height="7.09" fill="#0e5a2b"/>
<rect x="734.00" y="297.63" width="1.8" height="1.9" fill="#d6f5de"/>
<path d="M742.08,289.99 h4.78 v2.67 l1.77,1.53 v10.12 h-8.32 v-10.12 l1.77,-1.53 z" fill="#0a4621"/>
<rect x="742.14" y="294.99" width="4.66" height="7.09" fill="#0e5a2b"/>
<rect x="743.57" y="297.63" width="1.8" height="1.9" fill="#d6f5de"/>
<path d="M751.64,289.99 h4.78 v2.67 l1.77,1.53 v10.12 h-8.32 v-10.12 l1.77,-1.53 z" fill="#0a4621"/>
<rect x="751.70" y="294.99" width="4.66" height="7.09" fill="#0e5a2b"/>
<rect x="753.13" y="297.63" width="1.8" height="1.9" fill="#d6f5de"/>
<path d="M761.20,289.99 h4.78 v2.67 l1.77,1.53 v10.12 h-8.32 v-10.12 l1.77,-1.53 z" fill="#0a4621"/>
<rect x="761.26" y="294.99" width="4.66" height="7.09" fill="#0e5a2b"/>
<rect x="762.69" y="297.63" width="1.8" height="1.9" fill="#d6f5de"/>
<path d="M770.77,289.99 h4.78 v2.67 l1.77,1.53 v10.12 h-8.32 v-10.12 l1.77,-1.53 z" fill="#0a4621"/>
<rect x="770.83" y="294.99" width="4.66" height="7.09" fill="#0e5a2b"/>
<rect x="772.26" y="297.63" width="1.8" height="1.9" fill="#d6f5de"/>
<path d="M780.33,289.99 h4.78 v2.67 l1.77,1.53 v10.12 h-8.32 v-10.12 l1.77,-1.53 z" fill="#0a4621"/>
<rect x="780.39" y="294.99" width="4.66" height="7.09" fill="#0e5a2b"/>
<rect x="781.82" y="297.63" width="1.8" height="1.9" fill="#d6f5de"/>
<rect x="434.70" y="315.00" width="77.80" height="13.20" rx="1.4" fill="#e9ebf6"/>
<rect x="436.50" y="317.00" width="74.20" height="4.16" fill="url(#tinyb)"/>
<rect x="436.60" y="322.86" width="74.00" height="3.28" fill="#333b63"/>
<rect x="472.30" y="322.23" width="2.60" height="4.28" fill="url(#tiny2)"/>
<rect x="515.20" y="315.00" width="58.40" height="13.20" rx="1.4" fill="#e9ebf6"/>
<rect x="517.00" y="317.00" width="54.80" height="4.16" fill="url(#tinyb)"/>
<rect x="517.10" y="322.86" width="54.60" height="3.28" fill="#333b63"/>
<rect x="543.10" y="322.23" width="2.60" height="4.28" fill="url(#tiny2)"/>
<rect x="575.90" y="315.00" width="58.70" height="13.20" rx="1.4" fill="#e9ebf6"/>
<rect x="577.70" y="317.00" width="55.10" height="4.16" fill="url(#tinyb)"/>
<rect x="577.80" y="322.86" width="54.90" height="3.28" fill="#333b63"/>
<rect x="603.95" y="322.23" width="2.60" height="4.28" fill="url(#tiny2)"/>
<rect x="636.50" y="315.00" width="30.80" height="13.20" rx="1.4" fill="#e9ebf6"/>
<rect x="638.30" y="317.00" width="27.20" height="4.16" fill="url(#tinyb)"/>
<rect x="638.40" y="322.86" width="27.00" height="3.28" fill="#333b63"/>
<rect x="650.60" y="322.23" width="2.60" height="4.28" fill="url(#tiny2)"/>
<rect x="669.10" y="315.00" width="59.20" height="13.20" rx="1.4" fill="#e9ebf6"/>
<rect x="670.90" y="317.00" width="55.60" height="4.16" fill="url(#tinyb)"/>
<rect x="671.00" y="322.86" width="55.40" height="3.28" fill="#333b63"/>
<rect x="697.40" y="322.23" width="2.60" height="4.28" fill="url(#tiny2)"/>
<rect x="729.70" y="315.00" width="58.40" height="13.20" rx="1.4" fill="#e9ebf6"/>
<rect x="731.50" y="317.00" width="54.80" height="4.16" fill="url(#tinyb)"/>
<rect x="731.60" y="322.86" width="54.60" height="3.28" fill="#333b63"/>
<rect x="757.60" y="322.23" width="2.60" height="4.28" fill="url(#tiny2)"/>
<text x="436.80" y="336.05" font-family="Liberation Sans, sans-serif" font-weight="700" font-size="6" textLength="10.7" lengthAdjust="spacingAndGlyphs" fill="#f6f6fa" stroke="#f6f6fa" stroke-width="0.3">PWR</text>
<rect x="449.10" y="332.20" width="6.5" height="3.4" fill="#f6f6fa"/>
<rect x="465.20" y="332.20" width="5.7" height="3.4" fill="#f6f6fa"/>
<text x="437.20" y="342.35" font-family="Liberation Sans, sans-serif" font-weight="700" font-size="6" textLength="10.3" lengthAdjust="spacingAndGlyphs" fill="#f6f6fa" stroke="#f6f6fa" stroke-width="0.3">RUN</text>
<rect x="449.10" y="338.50" width="6.5" height="3.4" fill="#f6f6fa"/>
<rect x="465.20" y="338.50" width="5.7" height="3.4" fill="#f6f6fa"/>
<text x="437.60" y="348.85" font-family="Liberation Sans, sans-serif" font-weight="700" font-size="6" textLength="9.9" lengthAdjust="spacingAndGlyphs" fill="#f6f6fa" stroke="#f6f6fa" stroke-width="0.3">ERR</text>
<rect x="449.10" y="345.00" width="6.5" height="3.4" fill="#f6f6fa"/>
<rect x="465.20" y="345.00" width="5.7" height="3.4" fill="#f6f6fa"/>
<text x="441.20" y="355.25" font-family="Liberation Sans, sans-serif" font-weight="700" font-size="6" textLength="6.3" lengthAdjust="spacingAndGlyphs" fill="#f6f6fa" stroke="#f6f6fa" stroke-width="0.3">D1</text>
<rect x="449.10" y="351.40" width="6.5" height="3.4" fill="#f6f6fa"/>
<rect x="465.20" y="351.40" width="5.7" height="3.4" fill="#f6f6fa"/>
<rect x="459.10" y="329.30" width="10" height="20.40" rx="3" fill="none" stroke="#f6f6fa" stroke-width="1.2"/>
<rect x="456.30" y="333.30" width="5" height="1.2" fill="#f6f6fa"/>
<rect x="462.50" y="331.40" width="2" height="16.80" fill="#34363b"/>
<path d="M460.30,335.40 v11.30" stroke="#dfe6ff" stroke-width="2.2" stroke-dasharray="1.4 0.9" fill="none"/>
<rect x="467.10" y="333.90" width="2" height="12.80" fill="#f6f6fa"/>
<rect x="458.30" y="351.40" width="5.8" height="3.4" fill="url(#tiny2w)"/>
<path d="M472.1,343.4 l5.6,-4.4 v2.2 h10.299999999999978 v4.4 h-10.299999999999978 v2.2 z" fill="#ffffff"/>
<rect x="490.90" y="330.50" width="10.00" height="26.50" rx="1" fill="#2b2d31"/>
<rect x="491.70" y="331.30" width="8.4" height="5.4" rx="1.3" fill="#df241b"/>
<rect x="493.30" y="332.90" width="5.20" height="2.20" rx="1" fill="#ff6a55"/>
<rect x="491.70" y="337.80" width="8.4" height="5.4" rx="1.5" fill="#17b838"/>
<ellipse cx="495.90" cy="340.50" rx="2.60" ry="1.40" fill="#a6ffae"/>
<rect x="491.70" y="344.30" width="8.4" height="5.4" rx="1.3" fill="#df241b"/>
<rect x="493.30" y="345.90" width="5.20" height="2.20" rx="1" fill="#ff6a55"/>
<rect x="491.70" y="350.80" width="8.4" height="5.4" rx="1.5" fill="#17b838"/>
<ellipse cx="495.90" cy="353.50" rx="2.60" ry="1.40" fill="#a6ffae"/>
<rect x="506.50" y="330.50" width="10.20" height="26.50" rx="1" fill="#2b2d31"/>
<rect x="507.30" y="331.30" width="8.6" height="5.4" rx="1.5" fill="#17b838"/>
<ellipse cx="511.60" cy="334.00" rx="2.70" ry="1.40" fill="#a6ffae"/>
<rect x="507.30" y="337.80" width="8.6" height="5.4" rx="1.5" fill="#17b838"/>
<ellipse cx="511.60" cy="340.50" rx="2.70" ry="1.40" fill="#a6ffae"/>
<rect x="507.30" y="344.30" width="8.6" height="5.4" rx="1.5" fill="#17b838"/>
<ellipse cx="511.60" cy="347.00" rx="2.70" ry="1.40" fill="#a6ffae"/>
<rect x="507.30" y="350.80" width="8.6" height="5.4" rx="1.5" fill="#17b838"/>
<ellipse cx="511.60" cy="353.50" rx="2.70" ry="1.40" fill="#a6ffae"/>
<rect x="518.60" y="340.00" width="189.70" height="21.50" rx="0.8" fill="#0a2a14"/>
<rect x="519.60" y="341.00" width="32.03" height="19.50" fill="#70f29c"/>
<rect x="520.90" y="342.50" width="29.43" height="16.50" fill="#48dc7a"/>
<path d="M523.52,343.34 h4.84 v2.73 l1.79,1.56 v10.33 h-8.42 v-10.33 l1.79,-1.56 z" fill="#0a4621"/>
<rect x="523.58" y="348.43" width="4.72" height="7.23" fill="#0e5a2b"/>
<rect x="525.04" y="351.14" width="1.8" height="1.9" fill="#d6f5de"/>
<path d="M533.20,343.34 h4.84 v2.73 l1.79,1.56 v10.33 h-8.42 v-10.33 l1.79,-1.56 z" fill="#0a4621"/>
<rect x="533.26" y="348.43" width="4.72" height="7.23" fill="#0e5a2b"/>
<rect x="534.72" y="351.14" width="1.8" height="1.9" fill="#d6f5de"/>
<path d="M542.87,343.34 h4.84 v2.73 l1.79,1.56 v10.33 h-8.42 v-10.33 l1.79,-1.56 z" fill="#0a4621"/>
<rect x="542.94" y="348.43" width="4.72" height="7.23" fill="#0e5a2b"/>
<rect x="544.39" y="351.14" width="1.8" height="1.9" fill="#d6f5de"/>
<rect x="552.13" y="341.00" width="51.39" height="19.50" fill="#70f29c"/>
<rect x="553.43" y="342.50" width="48.79" height="16.50" fill="#48dc7a"/>
<path d="M556.05,343.34 h4.84 v2.73 l1.79,1.56 v10.33 h-8.42 v-10.33 l1.79,-1.56 z" fill="#0a4621"/>
<rect x="556.11" y="348.43" width="4.72" height="7.23" fill="#0e5a2b"/>
<rect x="557.57" y="351.14" width="1.8" height="1.9" fill="#d6f5de"/>
<path d="M565.73,343.34 h4.84 v2.73 l1.79,1.56 v10.33 h-8.42 v-10.33 l1.79,-1.56 z" fill="#0a4621"/>
<rect x="565.79" y="348.43" width="4.72" height="7.23" fill="#0e5a2b"/>
<rect x="567.25" y="351.14" width="1.8" height="1.9" fill="#d6f5de"/>
<path d="M575.41,343.34 h4.84 v2.73 l1.79,1.56 v10.33 h-8.42 v-10.33 l1.79,-1.56 z" fill="#0a4621"/>
<rect x="575.47" y="348.43" width="4.72" height="7.23" fill="#0e5a2b"/>
<rect x="576.93" y="351.14" width="1.8" height="1.9" fill="#d6f5de"/>
<path d="M585.09,343.34 h4.84 v2.73 l1.79,1.56 v10.33 h-8.42 v-10.33 l1.79,-1.56 z" fill="#0a4621"/>
<rect x="585.15" y="348.43" width="4.72" height="7.23" fill="#0e5a2b"/>
<rect x="586.61" y="351.14" width="1.8" height="1.9" fill="#d6f5de"/>
<path d="M594.76,343.34 h4.84 v2.73 l1.79,1.56 v10.33 h-8.42 v-10.33 l1.79,-1.56 z" fill="#0a4621"/>
<rect x="594.83" y="348.43" width="4.72" height="7.23" fill="#0e5a2b"/>
<rect x="596.28" y="351.14" width="1.8" height="1.9" fill="#d6f5de"/>
<rect x="604.02" y="341.00" width="51.39" height="19.50" fill="#70f29c"/>
<rect x="605.32" y="342.50" width="48.79" height="16.50" fill="#48dc7a"/>
<path d="M607.94,343.34 h4.84 v2.73 l1.79,1.56 v10.33 h-8.42 v-10.33 l1.79,-1.56 z" fill="#0a4621"/>
<rect x="608.00" y="348.43" width="4.72" height="7.23" fill="#0e5a2b"/>
<rect x="609.46" y="351.14" width="1.8" height="1.9" fill="#d6f5de"/>
<path d="M617.62,343.34 h4.84 v2.73 l1.79,1.56 v10.33 h-8.42 v-10.33 l1.79,-1.56 z" fill="#0a4621"/>
<rect x="617.68" y="348.43" width="4.72" height="7.23" fill="#0e5a2b"/>
<rect x="619.14" y="351.14" width="1.8" height="1.9" fill="#d6f5de"/>
<path d="M627.30,343.34 h4.84 v2.73 l1.79,1.56 v10.33 h-8.42 v-10.33 l1.79,-1.56 z" fill="#0a4621"/>
<rect x="627.36" y="348.43" width="4.72" height="7.23" fill="#0e5a2b"/>
<rect x="628.82" y="351.14" width="1.8" height="1.9" fill="#d6f5de"/>
<path d="M636.97,343.34 h4.84 v2.73 l1.79,1.56 v10.33 h-8.42 v-10.33 l1.79,-1.56 z" fill="#0a4621"/>
<rect x="637.04" y="348.43" width="4.72" height="7.23" fill="#0e5a2b"/>
<rect x="638.49" y="351.14" width="1.8" height="1.9" fill="#d6f5de"/>
<path d="M646.65,343.34 h4.84 v2.73 l1.79,1.56 v10.33 h-8.42 v-10.33 l1.79,-1.56 z" fill="#0a4621"/>
<rect x="646.71" y="348.43" width="4.72" height="7.23" fill="#0e5a2b"/>
<rect x="648.17" y="351.14" width="1.8" height="1.9" fill="#d6f5de"/>
<rect x="655.91" y="341.00" width="51.39" height="19.50" fill="#70f29c"/>
<rect x="657.21" y="342.50" width="48.79" height="16.50" fill="#48dc7a"/>
<path d="M659.83,343.34 h4.84 v2.73 l1.79,1.56 v10.33 h-8.42 v-10.33 l1.79,-1.56 z" fill="#0a4621"/>
<rect x="659.89" y="348.43" width="4.72" height="7.23" fill="#0e5a2b"/>
<rect x="661.35" y="351.14" width="1.8" height="1.9" fill="#d6f5de"/>
<path d="M669.51,343.34 h4.84 v2.73 l1.79,1.56 v10.33 h-8.42 v-10.33 l1.79,-1.56 z" fill="#0a4621"/>
<rect x="669.57" y="348.43" width="4.72" height="7.23" fill="#0e5a2b"/>
<rect x="671.03" y="351.14" width="1.8" height="1.9" fill="#d6f5de"/>
<path d="M679.19,343.34 h4.84 v2.73 l1.79,1.56 v10.33 h-8.42 v-10.33 l1.79,-1.56 z" fill="#0a4621"/>
<rect x="679.25" y="348.43" width="4.72" height="7.23" fill="#0e5a2b"/>
<rect x="680.71" y="351.14" width="1.8" height="1.9" fill="#d6f5de"/>
<path d="M688.86,343.34 h4.84 v2.73 l1.79,1.56 v10.33 h-8.42 v-10.33 l1.79,-1.56 z" fill="#0a4621"/>
<rect x="688.93" y="348.43" width="4.72" height="7.23" fill="#0e5a2b"/>
<rect x="690.38" y="351.14" width="1.8" height="1.9" fill="#d6f5de"/>
<path d="M698.54,343.34 h4.84 v2.73 l1.79,1.56 v10.33 h-8.42 v-10.33 l1.79,-1.56 z" fill="#0a4621"/>
<rect x="698.60" y="348.43" width="4.72" height="7.23" fill="#0e5a2b"/>
<rect x="700.06" y="351.14" width="1.8" height="1.9" fill="#d6f5de"/>
<rect x="520.20" y="369.90" width="29.90" height="12.80" rx="1.4" fill="#e9ebf6"/>
<rect x="522.00" y="371.90" width="26.30" height="4.03" fill="url(#tinyb)"/>
<rect x="522.10" y="377.52" width="26.10" height="3.17" fill="#333b63"/>
<rect x="533.85" y="376.91" width="2.60" height="4.15" fill="url(#tiny2)"/>
<rect x="552.30" y="369.90" width="49.30" height="12.80" rx="1.4" fill="#e9ebf6"/>
<rect x="554.10" y="371.90" width="45.70" height="4.03" fill="url(#tinyb)"/>
<rect x="554.20" y="377.52" width="45.50" height="3.17" fill="#333b63"/>
<rect x="575.65" y="376.91" width="2.60" height="4.15" fill="url(#tiny2)"/>
<rect x="603.90" y="369.90" width="49.30" height="12.80" rx="1.4" fill="#e9ebf6"/>
<rect x="605.70" y="371.90" width="45.70" height="4.03" fill="url(#tinyb)"/>
<rect x="605.80" y="377.52" width="45.50" height="3.17" fill="#333b63"/>
<rect x="627.25" y="376.91" width="2.60" height="4.15" fill="url(#tiny2)"/>
<rect x="655.50" y="369.90" width="50.10" height="12.80" rx="1.4" fill="#e9ebf6"/>
<rect x="657.30" y="371.90" width="46.50" height="4.03" fill="url(#tinyb)"/>
<rect x="657.40" y="377.52" width="46.30" height="3.17" fill="#333b63"/>
<rect x="679.25" y="376.91" width="2.60" height="4.15" fill="url(#tiny2)"/>
<rect x="735.60" y="351.40" width="23.40" height="8.40" rx="4.20" fill="#2a2c30" stroke="#e8e8ea" stroke-width="1.5"/>
<rect x="739.10" y="354.50" width="16.40" height="2.2" rx="1" fill="#60646c"/>
<rect x="767.10" y="323.40" width="17.00" height="35.20" rx="1" fill="#1e1f22"/>
<rect x="768.10" y="324.40" width="15.00" height="33.20" fill="#cfccc5"/>
<rect x="769.70" y="326.20" width="11.80" height="29.60" fill="#4a443e"/>
<rect x="769.70" y="326.20" width="7.08" height="29.60" fill="#f6f6f3"/>
<rect x="775.84" y="329.00" width="4.01" height="3" fill="#b39a66"/>
<rect x="775.84" y="335.67" width="4.01" height="3" fill="#b39a66"/>
<rect x="775.84" y="342.33" width="4.01" height="3" fill="#b39a66"/>
<rect x="775.84" y="349.00" width="4.01" height="3" fill="#b39a66"/>
<rect x="795.30" y="288.50" width="45.40" height="71.90" rx="0.8" fill="#1d1e21"/>
<rect x="796.40" y="289.60" width="43.20" height="69.70" fill="#e9e6df"/>
<rect x="796.40" y="319.42" width="43.20" height="10.78" fill="#dcd9d2"/>
<path d="M803.02,317.91 V297.85 L804.83,295.47 H813.28 V289.79 H823.40 V295.47 H830.89 L832.71,297.85 V317.91 Z" fill="#2b2d31"/>
<rect x="804.83" y="302.88" width="26.06" height="7.19" fill="#3e4146"/>
<rect x="805.74" y="310.07" width="24.52" height="3.59" fill="url(#pins)"/>
<rect x="803.93" y="314.38" width="27.88" height="3.24" fill="#1b1c1f"/>
<path d="M803.02,331.78 H832.71 V349.62 L830.89,351.92 H823.40 V357.31 H813.28 V351.92 H804.83 L803.02,349.62 Z" fill="#2b2d31"/>
<rect x="803.93" y="332.00" width="27.88" height="3.24" fill="#1b1c1f"/>
<rect x="805.74" y="335.95" width="24.52" height="3.59" fill="url(#pins)"/>
<rect x="804.83" y="340.27" width="26.06" height="7.19" fill="#3e4146"/>
<rect x="799.39" y="293.10" width="8.63" height="4.75" rx="2.37" fill="#e2da4a"/>
<rect x="800.99" y="294.30" width="5.43" height="2.35" rx="1.17" fill="#f6f09a"/>
<rect x="828.26" y="293.10" width="8.63" height="4.75" rx="2.37" fill="#30d552"/>
<rect x="829.86" y="294.30" width="5.43" height="2.35" rx="1.17" fill="#8affa0"/>
<rect x="799.39" y="351.63" width="8.63" height="4.75" rx="2.37" fill="#e2da4a"/>
<rect x="800.99" y="352.83" width="5.43" height="2.35" rx="1.17" fill="#f6f09a"/>
<rect x="828.26" y="351.63" width="8.63" height="4.75" rx="2.37" fill="#30d552"/>
<rect x="829.86" y="352.83" width="5.43" height="2.35" rx="1.17" fill="#8affa0"/>
<rect x="796.40" y="303.24" width="2.2" height="5.39" fill="#33353a"/>
<rect x="837.40" y="303.24" width="2.2" height="5.39" fill="#33353a"/>
<rect x="796.40" y="340.99" width="2.2" height="5.39" fill="#33353a"/>
<rect x="837.40" y="340.99" width="2.2" height="5.39" fill="#33353a"/>
<text x="737.60" y="371.40" font-family="Liberation Sans, sans-serif" font-weight="700" font-size="8.2" textLength="20.2" lengthAdjust="spacingAndGlyphs" fill="#f6f6fa">DEBUG</text>
<text x="770.00" y="371.40" font-family="Liberation Sans, sans-serif" font-weight="700" font-size="8.2" textLength="12.0" lengthAdjust="spacingAndGlyphs" fill="#f6f6fa">USB</text>
<text x="809.70" y="371.20" font-family="Liberation Sans, sans-serif" font-weight="700" font-size="8.2" textLength="15.5" lengthAdjust="spacingAndGlyphs" fill="#f6f6fa">ETH0</text>
<text x="809.70" y="378.40" font-family="Liberation Sans, sans-serif" font-weight="700" font-size="8.2" textLength="15.5" lengthAdjust="spacingAndGlyphs" fill="#f6f6fa">ETH1</text>
<rect x="564" y="409.2" width="164.7" height="60.5" fill="#283a7f"/>
<text x="580.4" y="450.8" font-family="Liberation Sans, sans-serif" font-weight="700" font-size="31.6" textLength="130.6" lengthAdjust="spacingAndGlyphs" fill="url(#ltxt)">Linux 6.1</text>
</svg>
<svg style="position:absolute;left:89px;top:60px" width="254" height="95" viewBox="0 0 254 95"><use href="#badge"/></svg>
<svg style="position:absolute;left:50px;top:217px" width="232" height="95" viewBox="22 0 232 95"><use href="#badge"/></svg>
<svg style="position:absolute;left:88px;top:374px" width="254" height="95" viewBox="0 0 254 95"><use href="#badge"/></svg>
<svg style="position:absolute;left:950px;top:60px" width="254" height="95" viewBox="0 0 254 95"><g transform="translate(254,0) scale(-1,1)"><use href="#badge"/></g></svg>
<svg style="position:absolute;left:1012px;top:218px" width="232" height="95" viewBox="0 0 232 95"><g transform="translate(254,0) scale(-1,1)"><use href="#badge"/></g></svg>
<svg style="position:absolute;left:951px;top:375px" width="254" height="95" viewBox="0 0 254 95"><g transform="translate(254,0) scale(-1,1)"><use href="#badge"/></g></svg>
<svg style="position:absolute;left:0;top:0" width="1286" height="582" viewBox="0 0 1286 582">
<polygon points="1244,278 1244,304 1202.6,303.8 1193,307.8 1180,307.8 1180,300" fill="#2179f3"/>
<polygon points="1202.6,303.8 1244,303.8 1244,308.2 1193,308.2" fill="#ffffff"/>
<polygon points="1239,282.6 1239,303.8 1202.6,303.8" fill="#2a3f86"/>
<rect x="1239" y="281" width="5" height="23" fill="#ffffff"/>
<rect x="1240.3" y="281" width="1.2" height="23" fill="#1530e0"/>
<rect x="1242.6" y="283" width="1" height="21" fill="#1e60f0"/>
<rect x="1214.5" y="304" width="1.4" height="9" fill="#000"/>
<rect x="1224" y="304" width="1.4" height="9" fill="#000"/>
<text x="216.8" y="120.9" font-family="Liberation Sans, sans-serif" font-weight="700" font-size="25" textLength="78.4" lengthAdjust="spacingAndGlyphs" fill="#0848c4" stroke="#0848c4" stroke-width="4" opacity="0.6" filter="url(#tsh)" transform="translate(0.5,1.5)">TCP/IP</text>
<text x="216.8" y="120.9" font-family="Liberation Sans, sans-serif" font-weight="700" font-size="25" textLength="78.4" lengthAdjust="spacingAndGlyphs" fill="#ffffff">TCP/IP</text>
<text x="187" y="280.2" font-family="Liberation Sans, sans-serif" font-weight="700" font-size="25" textLength="45.5" lengthAdjust="spacingAndGlyphs" fill="#0848c4" stroke="#0848c4" stroke-width="4" opacity="0.6" filter="url(#tsh)" transform="translate(0.5,1.5)">SSH</text>
<text x="187" y="280.2" font-family="Liberation Sans, sans-serif" font-weight="700" font-size="25" textLength="45.5" lengthAdjust="spacingAndGlyphs" fill="#ffffff">SSH</text>
<text x="185.6" y="434" font-family="Liberation Sans, sans-serif" font-weight="700" font-size="25" textLength="109.9" lengthAdjust="spacingAndGlyphs" fill="#0848c4" stroke="#0848c4" stroke-width="4" opacity="0.6" filter="url(#tsh)" transform="translate(0.5,1.5)">OpenVPN</text>
<text x="185.6" y="434" font-family="Liberation Sans, sans-serif" font-weight="700" font-size="25" textLength="109.9" lengthAdjust="spacingAndGlyphs" fill="#ffffff">OpenVPN</text>
<text x="999" y="123" font-family="Liberation Sans, sans-serif" font-weight="700" font-size="25" textLength="91.7" lengthAdjust="spacingAndGlyphs" fill="#0848c4" stroke="#0848c4" stroke-width="4" opacity="0.6" filter="url(#tsh)" transform="translate(0.5,1.5)">Modbus</text>
<text x="999" y="123" font-family="Liberation Sans, sans-serif" font-weight="700" font-size="25" textLength="91.7" lengthAdjust="spacingAndGlyphs" fill="#ffffff">Modbus</text>
<text x="1053.6" y="279.7" font-family="Liberation Sans, sans-serif" font-weight="700" font-size="25" textLength="166.4" lengthAdjust="spacingAndGlyphs" fill="#0848c4" stroke="#0848c4" stroke-width="4" opacity="0.6" filter="url(#tsh)" transform="translate(0.5,1.5)">Reverse Proxy</text>
<text x="1053.6" y="279.7" font-family="Liberation Sans, sans-serif" font-weight="700" font-size="25" textLength="166.4" lengthAdjust="spacingAndGlyphs" fill="#ffffff">Reverse Proxy</text>
<text x="996.5" y="435.5" font-family="Liberation Sans, sans-serif" font-weight="700" font-size="25" textLength="66.5" lengthAdjust="spacingAndGlyphs" fill="#0848c4" stroke="#0848c4" stroke-width="4" opacity="0.6" filter="url(#tsh)" transform="translate(0.5,1.5)">Nginx</text>
<text x="996.5" y="435.5" font-family="Liberation Sans, sans-serif" font-weight="700" font-size="25" textLength="66.5" lengthAdjust="spacingAndGlyphs" fill="#ffffff">Nginx</text>
</svg>
</body></html>
